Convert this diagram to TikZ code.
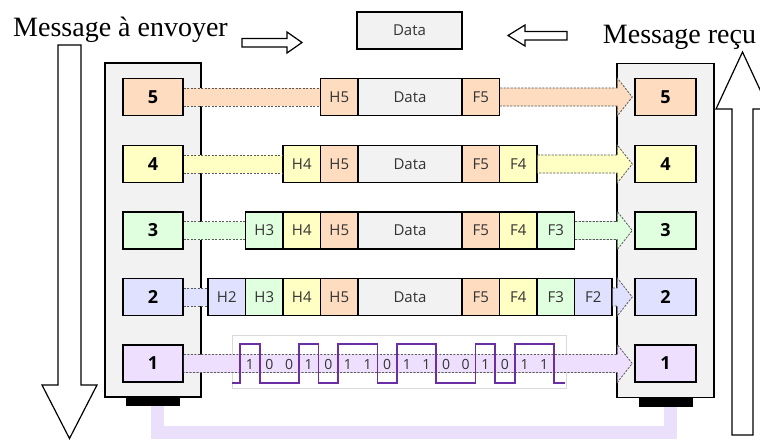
\documentclass[tikz,border=0pt]{standalone}
\usepackage{fontspec}
\setmainfont{Liberation Serif}
\newfontfamily\boxfont{Open Sans}
\usetikzlibrary{calc}
\definecolor{c5}{HTML}{FDDCBF}
\definecolor{c4}{HTML}{FFFFC4}
\definecolor{c3}{HTML}{DFFFDF}
\definecolor{c2}{HTML}{E0E0FF}
\definecolor{c1}{HTML}{EEDFFF}
\definecolor{cdata}{HTML}{F2F2F2}
\definecolor{wave}{HTML}{6B2FA3}
\definecolor{cablecol}{HTML}{EBE0FC}
\newcommand\mkcell[6]{\node[cellbox,fill=#5,minimum width=#4pt] (#1) at (#2,#3) {#6};}
\newcommand\lband[3]{%
  \fill[#3] ($(#1.east)+(0,-9)$) rectangle ($(#2.west)+(0,9)$);
  \draw[dashln] ($(#1.east)+(0,-9)$) -- ($(#2.west)+(0,-9)$) ($(#1.east)+(0,9)$) -- ($(#2.west)+(0,9)$);}
\newcommand\rband[3]{%
  \filldraw[dashln,fill=#3] ($(#1.east)+(0,-9)$) -- ($(#2.west)+(-17,-9)$) -- ($(#2.west)+(-17,-19)$) -- ($(#2.west)+(-2,0)$) -- ($(#2.west)+(-17,19)$) -- ($(#2.west)+(-17,9)$) -- ($(#1.east)+(0,9)$);}
\begin{document}
\begin{tikzpicture}[x=1pt,y=-1pt,
  lbox/.style={draw=black,line width=1.5pt,minimum width=60pt,minimum height=37pt,inner sep=0pt,font=\boxfont\bfseries\fontsize{18}{18}\selectfont},
  cellbox/.style={draw=black,line width=1.3pt,minimum height=37pt,inner sep=0pt,font=\boxfont\fontsize{15}{15}\selectfont,text=black!80},
  panel/.style={draw=black,line width=1.5pt,fill=cdata,minimum width=96pt,minimum height=334pt,inner sep=0pt},
  foot/.style={fill=black,minimum width=54pt,minimum height=9pt,inner sep=0pt},
  dashln/.style={draw=black!65,line width=0.8pt,dash pattern=on 2.2pt off 1.3pt},
  hollow/.style={draw=black,line width=1.2pt,fill=white},
  msg/.style={font=\fontsize{28}{28}\selectfont,anchor=base,inner sep=0pt},
  bit/.style={font=\boxfont\fontsize{14}{14}\selectfont,text=black!80,inner sep=0pt}
]
\useasboundingbox (0,0) rectangle (760,439);
\fill[white] (0,0) rectangle (760,439);

% messages
\node[msg] (msgS) at (120.5,36) {Message à envoyer};
\node[msg] (msgR) at (679.5,43) {Message reçu};
\node[cellbox,fill=cdata,minimum width=105pt] (dtop) at (409.5,30.5) {Data};

% small hollow arrows
\draw[hollow] (242,38.5) -- (287,38.5) -- (287,32) -- (302,42.5) -- (287,53) -- (287,47) -- (242,47) -- cycle;
\draw[hollow] (567,31.5) -- (525,31.5) -- (525,25) -- (508,35.5) -- (525,46) -- (525,40) -- (567,40) -- cycle;

% big hollow arrows
\draw[hollow] (58,45) -- (81,45) -- (81,385) -- (97,385) -- (69.5,438.5) -- (42,385) -- (58,385) -- cycle;
\draw[hollow] (732,435) -- (753,435) -- (753,109) -- (769,109) -- (742.5,52) -- (716,109) -- (732,109) -- cycle;

% panels and cable
\node[foot] (footL) at (153,401.5) {};
\node[foot] (footR) at (666,402) {};
\draw[cablecol,line width=13pt] ($(footL.south)+(4,0)$) |- ($(footR.south)+(4,26)$) -- ($(footR.south)+(4,0)$);
\node[panel] (panL) at (153,230) {};
\node[panel,minimum width=97pt] (panR) at (665.5,230.5) {};

% layer boxes
\node[lbox,fill=c5] (L5) at (153,97) {5};
\node[lbox,fill=c4] (L4) at (153,164) {4};
\node[lbox,fill=c3] (L3) at (153,230.5) {3};
\node[lbox,fill=c2] (L2) at (153,297) {2};
\node[lbox,fill=c1] (L1) at (153,363.5) {1};
\node[lbox,fill=c5,minimum width=61pt] (R5) at (665.5,97) {5};
\node[lbox,fill=c4,minimum width=61pt] (R4) at (665.5,164) {4};
\node[lbox,fill=c3,minimum width=61pt] (R3) at (665.5,230.5) {3};
\node[lbox,fill=c2,minimum width=61pt] (R2) at (665.5,297) {2};
\node[lbox,fill=c1,minimum width=61pt] (R1) at (665.5,363.5) {1};

% bit strip
\node[draw=black!15,fill=white,minimum width=334pt,minimum height=53pt,inner sep=0pt] (strip) at (399,361.5) {};

% layer 5 frame
\mkcell{l5h5}{339.25}{97}{37.5}{c5}{H5}
\mkcell{l5d}{410}{97}{104}{cdata}{Data}
\mkcell{l5f5}{480.75}{97}{37.5}{c5}{F5}
% layer 4 frame
\mkcell{l4h4}{301.75}{164}{37.5}{c4}{H4}
\mkcell{l4h5}{339.25}{164}{37.5}{c5}{H5}
\mkcell{l4d}{410}{164}{104}{cdata}{Data}
\mkcell{l4f5}{480.75}{164}{37.5}{c5}{F5}
\mkcell{l4f4}{518.25}{164}{37.5}{c4}{F4}
% layer 3 frame
\mkcell{l3h3}{264.25}{230.5}{37.5}{c3}{H3}
\mkcell{l3h4}{301.75}{230.5}{37.5}{c4}{H4}
\mkcell{l3h5}{339.25}{230.5}{37.5}{c5}{H5}
\mkcell{l3d}{410}{230.5}{104}{cdata}{Data}
\mkcell{l3f5}{480.75}{230.5}{37.5}{c5}{F5}
\mkcell{l3f4}{518.25}{230.5}{37.5}{c4}{F4}
\mkcell{l3f3}{555.75}{230.5}{37.5}{c3}{F3}
% layer 2 frame
\mkcell{l2h2}{226.75}{297}{37.5}{c2}{H2}
\mkcell{l2h3}{264.25}{297}{37.5}{c3}{H3}
\mkcell{l2h4}{301.75}{297}{37.5}{c4}{H4}
\mkcell{l2h5}{339.25}{297}{37.5}{c5}{H5}
\mkcell{l2d}{410}{297}{104}{cdata}{Data}
\mkcell{l2f5}{480.75}{297}{37.5}{c5}{F5}
\mkcell{l2f4}{518.25}{297}{37.5}{c4}{F4}
\mkcell{l2f3}{555.75}{297}{37.5}{c3}{F3}
\mkcell{l2f2}{593.25}{297}{37.5}{c2}{F2}

% bands
\lband{L5}{l5h5}{c5}
\rband{l5f5}{R5}{c5}
\lband{L4}{l4h4}{c4}
\rband{l4f4}{R4}{c4}
\lband{L3}{l3h3}{c3}
\rband{l3f3}{R3}{c3}
\lband{L2}{l2h2}{c2}
\rband{l2f2}{R2}{c2}
\rband{L1}{R1}{c1}

% signal
\draw[wave,line width=1.8pt,line join=miter] (232,383) -- (240,383) -- (240,344) -- (259.6,344) -- (259.6,383) -- (298.9,383) -- (298.9,344) -- (318.5,344) -- (318.5,383) -- (338.1,383) -- (338.1,344) -- (377.4,344) -- (377.4,383) -- (397,383) -- (397,344) -- (436.25,344) -- (436.25,383) -- (475.5,383) -- (475.5,344) -- (495.1,344) -- (495.1,383) -- (514.75,383) -- (514.75,344) -- (554,344) -- (554,383) -- (565,383);
\foreach \b [count=\i from 0] in {1,0,0,1,0,1,1,0,1,1,0,0,1,0,1,1}
  \node[bit] (bit\i) at ({249.8+\i*19.625},364.5) {\b};
\end{tikzpicture}
\end{document}
